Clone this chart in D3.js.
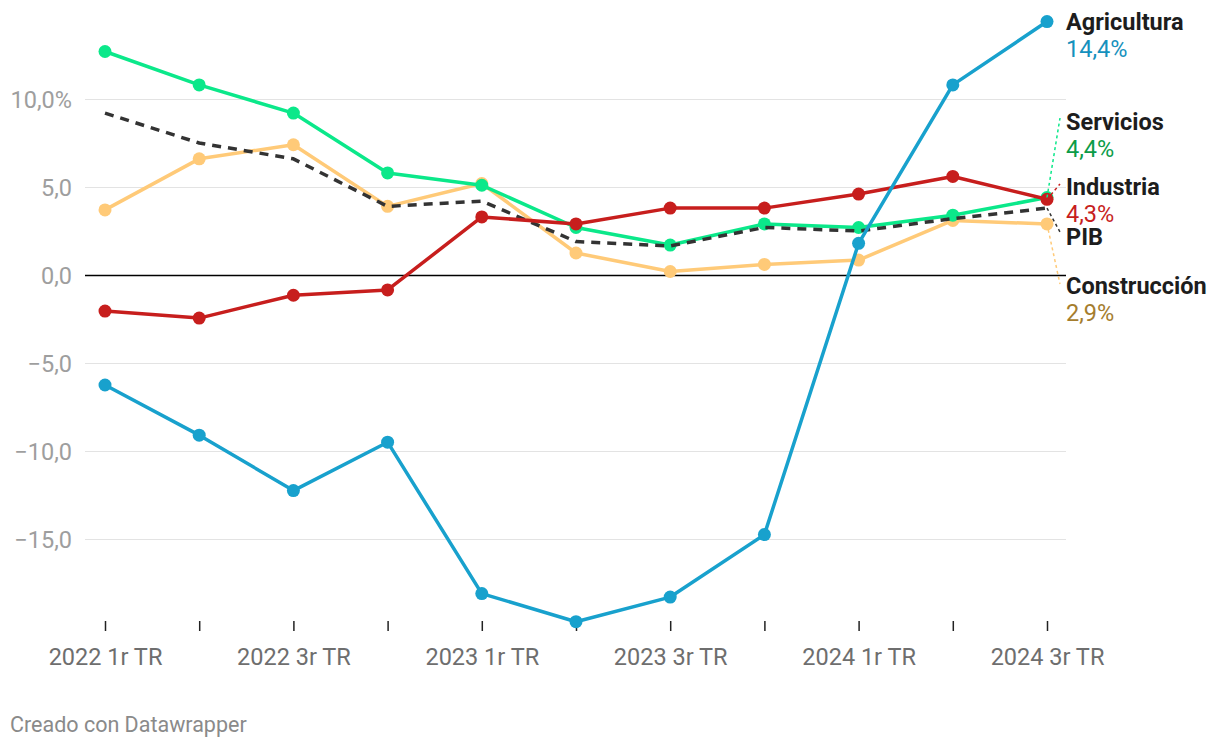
<!DOCTYPE html>
<html><head><meta charset="utf-8">
<script src="https://cdn.jsdelivr.net/npm/d3@7"></script>
<style>body{margin:0;background:#fff;font-family:Roboto,sans-serif}</style>
</head><body><svg id="c" width="1220" height="748"></svg>
<script>
const categories=["2022 1r TR","2022 2º TR","2022 3r TR","2022 4º TR","2023 1r TR","2023 2º TR","2023 3r TR","2023 4º TR","2024 1r TR","2024 2º TR","2024 3r TR"];
const agricultura=[-6.25,-9.1,-12.25,-9.5,-18.1,-19.7,-18.3,-14.75,1.8,10.8,14.4];
const servicios=[12.7,10.8,9.2,5.8,5.1,2.7,1.7,2.9,2.7,3.4,4.4];
const industria=[-2.05,-2.45,-1.15,-0.85,3.3,2.9,3.8,3.8,4.6,5.6,4.3];
const construccion=[3.7,6.6,7.4,3.9,5.2,1.25,0.2,0.6,0.85,3.1,2.9];
const pib=[9.2,7.5,6.6,3.9,4.2,1.9,1.65,2.7,2.5,3.2,3.8];
const yTicks=[10,5,0,-5,-10,-15];
const yTickLabels=["10,0%","5,0","0,0","−5,0","−10,0","−15,0"];

const svg=d3.select("#c");
const x=d3.scalePoint().domain(categories).range([105,1047]);
const y=d3.scaleLinear().domain([-15,10]).range([539,99]);

// grid
const gy=svg.append("g").attr("transform","translate(85,0)")
  .call(d3.axisLeft(y).tickValues(yTicks).tickSize(-981).tickFormat((d,i)=>yTickLabels[i]).tickPadding(13));
gy.select(".domain").remove();
gy.selectAll(".tick line").attr("stroke",d=>d===0?"#000":"#e3e3e3").attr("stroke-width",d=>d===0?1.5:1.2);
gy.selectAll(".tick text").attr("fill","#9e9e9e").style("font-family","Roboto").style("font-size","23.5px").attr("dy","0.34em");

// x axis
const gx=svg.append("g").attr("transform","translate(0,621)")
  .call(d3.axisBottom(x).tickSize(10).tickPadding(17).tickFormat((d,i)=>i%2===0?d:""));
gx.select(".domain").remove();
gx.selectAll(".tick line").attr("stroke","#222").attr("stroke-width",1.5);
gx.selectAll(".tick text").attr("fill","#6e6e6e").style("font-family","Roboto").style("font-size","23.5px");

const series=[
 {name:"Construcción",vals:construccion,color:"#ffca78",dots:true},
 {name:"Servicios",vals:servicios,color:"#0be88a",dots:true},
 {name:"PIB",vals:pib,color:"#333",dots:false,dash:"9,7"},
 {name:"Industria",vals:industria,color:"#c71e1d",dots:true},
 {name:"Agricultura",vals:agricultura,color:"#18a1cd",dots:true}
];
const line=d3.line().x((d,i)=>x(categories[i])).y(d=>y(d));
series.forEach(s=>{
  svg.append("path").datum(s.vals).attr("d",line).attr("fill","none")
    .attr("stroke",s.color).attr("stroke-width",3.5).attr("stroke-linejoin","round")
    .attr("stroke-dasharray",s.dash||null);
  if(s.dots){
    svg.append("g").selectAll("circle").data(s.vals).join("circle")
      .attr("cx",(d,i)=>x(categories[i])).attr("cy",d=>y(d)).attr("r",6.5).attr("fill",s.color);
  }
});

// labels
const lastX=x(categories[categories.length-1]);
const labels=[
 {name:"Agricultura",val:"14,4%",color:"#18a1cd",vcolor:"#1591bd",ty:30,line:null},
 {name:"Servicios",val:"4,4%",color:"#0be88a",vcolor:"#0b9c48",ty:130,line:[servicios[10],118]},
 {name:"Industria",val:"4,3%",color:"#c71e1d",vcolor:"#c71e1d",ty:195,line:[industria[10],184]},
 {name:"PIB",val:null,color:"#333",vcolor:"#333",ty:245,line:[pib[10],232]},
 {name:"Construcción",val:"2,9%",color:"#ffca78",vcolor:"#a57d2e",ty:294,line:[construccion[10],284]}
];
labels.forEach(l=>{
  if(l.line){
    svg.append("line").attr("x1",lastX).attr("y1",y(l.line[0])).attr("x2",1060).attr("y2",l.line[1])
      .attr("stroke",l.color).attr("stroke-width",1.5).attr("stroke-dasharray","3,3");
  }
  svg.append("text").attr("x",1066).attr("y",l.ty).text(l.name)
    .style("font-family","Roboto").style("font-size","23.5px").style("font-weight","700").attr("fill","#1d1d1d");
  if(l.val) svg.append("text").attr("x",1066).attr("y",l.ty+27).text(l.val)
    .style("font-family","Roboto").style("font-size","23.5px").attr("fill",l.vcolor);
});

svg.append("text").attr("x",10).attr("y",732).text("Creado con Datawrapper")
  .style("font-family","Roboto").style("font-size","21.5px").attr("fill","#8a8a8a");
</script></body></html>
